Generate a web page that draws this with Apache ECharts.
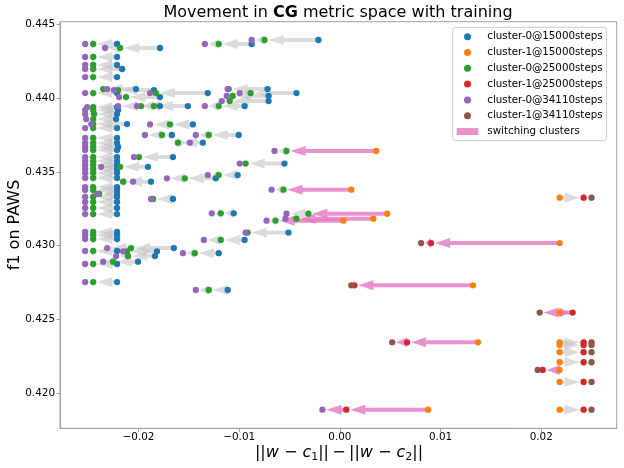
<!DOCTYPE html>
<html>
<head>
<meta charset="utf-8">
<script src="https://cdn.jsdelivr.net/npm/echarts@6/dist/echarts.min.js"></script>
<style>
html, body { margin: 0; padding: 0; background: #fff; }
#main { width: 624px; height: 468px; }
</style>
</head>
<body>
<div id="main"></div>
<script>
// rows: [x @15000 steps, x @25000 steps, x @34110 steps, f1 on PAWS]
// tasks that stay in cluster 0 the whole time
var stay0 = [
	[-0.02213, -0.02450, -0.02530, 0.44365],
	[-0.02213, -0.02450, -0.02530, 0.44277],
	[-0.02213, -0.02450, -0.02530, 0.44223],
	[-0.02163, -0.02450, -0.02530, 0.44196],
	[-0.02213, -0.02450, -0.02530, 0.44141],
	[-0.02213, -0.02450, -0.02530, 0.44033],
	[-0.02213, -0.02450, -0.02510, 0.43938],
	[-0.02203, -0.02450, -0.02530, 0.43918],
	[-0.02213, -0.02441, -0.02530, 0.43891],
	[-0.02223, -0.02450, -0.02520, 0.43857],
	[-0.02114, -0.02450, -0.02470, 0.43823],
	[-0.02213, -0.02450, -0.02530, 0.43796],
	[-0.02213, -0.02450, -0.02530, 0.43729],
	[-0.02213, -0.02450, -0.02530, 0.43695],
	[-0.02203, -0.02450, -0.02530, 0.43668],
	[-0.02213, -0.02450, -0.02530, 0.43647],
	[-0.02213, -0.02450, -0.02530, 0.43600],
	[-0.02213, -0.02450, -0.02530, 0.43573],
	[-0.02213, -0.02450, -0.02530, 0.43546],
	[-0.02213, -0.02450, -0.02530, 0.43519],
	[-0.02213, -0.02450, -0.02530, 0.43492],
	[-0.02213, -0.02450, -0.02530, 0.43458],
	[-0.02213, -0.02450, -0.02530, 0.43397],
	[-0.02213, -0.02450, -0.02530, 0.43377],
	[-0.02213, -0.02391, -0.02411, 0.43350],
	[-0.02213, -0.02450, -0.02530, 0.43330],
	[-0.02213, -0.02450, -0.02530, 0.43296],
	[-0.02213, -0.02450, -0.02530, 0.43255],
	[-0.02213, -0.02450, -0.02530, 0.43214],
	[-0.02213, -0.02450, -0.02530, 0.43093],
	[-0.02213, -0.02450, -0.02530, 0.43072],
	[-0.02213, -0.02450, -0.02530, 0.43045],
	[-0.02213, -0.02450, -0.02530, 0.42964],
	[-0.02213, -0.02450, -0.02530, 0.42876],
	[-0.02213, -0.02450, -0.02530, 0.42754],
	[-0.01787, -0.02183, -0.02332, 0.44338],
	[-0.00876, -0.01203, -0.01341, 0.44365],
	[-0.00213, -0.00748, -0.00876, 0.44392],
	[-0.02025, -0.02351, -0.02312, 0.44060],
	[-0.01847, -0.02203, -0.02243, 0.44053],
	[-0.01312, -0.01827, -0.01886, 0.44033],
	[-0.01787, -0.02124, -0.02193, 0.44006],
	[-0.01787, -0.01975, -0.02203, 0.43945],
	[-0.01510, -0.01847, -0.02015, 0.43945],
	[-0.00718, -0.01104, -0.01114, 0.44060],
	[-0.00431, -0.00886, -0.00995, 0.44033],
	[-0.00708, -0.01064, -0.01124, 0.44013],
	[-0.00708, -0.01094, -0.01173, 0.43979],
	[-0.00946, -0.01203, -0.01341, 0.43945],
	[-0.01460, -0.01688, -0.01886, 0.43821],
	[-0.01668, -0.01767, -0.01936, 0.43749],
	[-0.01005, -0.01302, -0.01431, 0.43749],
	[-0.01361, -0.01609, -0.01490, 0.43697],
	[-0.01658, -0.01995, -0.02045, 0.43600],
	[-0.00550, -0.00936, -0.00995, 0.43556],
	[-0.01906, -0.02183, -0.02371, 0.43534],
	[-0.01015, -0.01203, -0.01312, 0.43478],
	[-0.01233, -0.01540, -0.01718, 0.43456],
	[-0.01876, -0.02153, -0.02054, 0.43433],
	[-0.01658, -0.01856, -0.01876, 0.43316],
	[-0.01054, -0.01183, -0.01272, 0.43219],
	[-0.00510, -0.00916, -0.00936, 0.43089],
	[-0.00946, -0.01183, -0.01351, 0.43039],
	[-0.01649, -0.02074, -0.02312, 0.42984],
	[-0.01817, -0.02114, -0.02153, 0.42962],
	[-0.01203, -0.01441, -0.01559, 0.42949],
	[-0.01837, -0.02104, -0.02223, 0.42930],
	[-0.02005, -0.02252, -0.02351, 0.42892],
	[-0.01114, -0.01302, -0.01431, 0.42700]
];

// tasks that stay in cluster 1
var stay1 = [
	[0.02183, 0.02421, 0.02500, 0.43325],
	[0.02183, 0.02421, 0.02500, 0.42346],
	[0.02183, 0.02421, 0.02500, 0.42328],
	[0.02183, 0.02421, 0.02500, 0.42279],
	[0.02183, 0.02421, 0.02500, 0.42211],
	[0.02183, 0.02421, 0.02500, 0.42078],
	[0.02183, 0.02421, 0.02500, 0.41890]
];

// [x15, x25, x34, f1, cluster@15000, cluster@25000, cluster@34110, switch 15->25, switch 25->34]
var switched = [
	[0.00361, -0.00530, -0.00649, 0.43641, 1, 0, 0, 1, 0],
	[0.00114, -0.00560, -0.00678, 0.43379, 1, 0, 0, 1, 0],
	[0.00470, -0.00312, -0.00530, 0.43216, 1, 0, 0, 1, 0],
	[0.00332, -0.00431, -0.00540, 0.43183, 1, 0, 0, 1, 0],
	[0.00035, -0.00639, -0.00728, 0.43169, 1, 0, 0, 1, 0],
	[0.02183, 0.00906, 0.00807, 0.43018, 1, 1, 1, 1, 1],
	[0.01322, 0.00144, 0.00114, 0.42732, 1, 1, 1, 1, 1],
	[0.02183, 0.02312, 0.01985, 0.42547, 1, 1, 1, 1, 1],
	[0.01371, 0.00668, 0.00520, 0.42346, 1, 1, 1, 1, 1],
	[0.02183, 0.02015, 0.01965, 0.42159, 1, 1, 1, 1, 1],
	[0.00876, 0.00064, -0.00173, 0.41890, 1, 1, 0, 1, 1]
];

var xTicks = [-0.02, -0.01, 0, 0.01, 0.02];
var yTicks = [0.420, 0.425, 0.430, 0.435, 0.440, 0.445];
var steps = ['15000', '25000', '34110'];
var pointColors = [
	['#1f77b4', '#ff7f0e'],
	['#2ca02c', '#d62728'],
	['#9467bd', '#8c564b']
];
var FONT = 'DejaVu Sans';

// points[step][cluster]
var points = [[[], []], [[], []], [[], []]];
var grayArrows = [];
var pinkArrows = [];

function addRow(r, cl, sw) {
	for (var s = 0; s < 3; s++) {
		points[s][cl[s]].push([r[s], r[3]]);
	}
	(sw[0] ? pinkArrows : grayArrows).push([r[0], r[3], r[1], r[3]]);
	(sw[1] ? pinkArrows : grayArrows).push([r[1], r[3], r[2], r[3]]);
}
stay0.forEach(function (r) { addRow(r, [0, 0, 0], [0, 0]); });
stay1.forEach(function (r) { addRow(r, [1, 1, 1], [0, 0]); });
switched.forEach(function (r) { addRow(r, [r[4], r[5], r[6]], [r[7], r[8]]); });

function arrowRenderer(color) {
	return function (params, api) {
		var a = api.coord([api.value(0), api.value(1)]);
		var b = api.coord([api.value(2), api.value(3)]);
		var dx = b[0] - a[0], dy = b[1] - a[1];
		var len = Math.sqrt(dx * dx + dy * dy);
		var gap = 4;
		if (len <= gap + 0.5) return null;
		var ux = dx / len, uy = dy / len, nx = -uy, ny = ux;
		var L = len - gap;
		var tip = [a[0] + ux * L, a[1] + uy * L];
		var hl = Math.min(15, L), hw = 5, sw = 2;
		var base = [tip[0] - ux * hl, tip[1] - uy * hl];
		var pts = [
			[a[0] + nx * sw, a[1] + ny * sw],
			[base[0] + nx * sw, base[1] + ny * sw],
			[base[0] + nx * hw, base[1] + ny * hw],
			tip,
			[base[0] - nx * hw, base[1] - ny * hw],
			[base[0] - nx * sw, base[1] - ny * sw],
			[a[0] - nx * sw, a[1] - ny * sw]
		];
		return { type: 'polygon', shape: { points: pts }, style: { fill: color } };
	};
}

var series = [{
	type: 'custom',
	name: 'moves',
	renderItem: arrowRenderer('rgba(190,190,190,0.55)'),
	data: grayArrows,
	silent: true,
	z: 1
}, {
	type: 'custom',
	name: 'switching clusters',
	renderItem: arrowRenderer('rgba(227,119,194,0.8)'),
	data: pinkArrows,
	silent: true,
	z: 1
}];

var legendData = [];
for (var s = 0; s < 3; s++) {
	for (var c = 0; c < 2; c++) {
		var nm = 'cluster-' + c + '@' + steps[s] + 'steps';
		series.push({
			type: 'scatter',
			name: nm,
			symbolSize: 6.3,
			itemStyle: { color: pointColors[s][c], opacity: 1 },
			data: points[s][c],
			z: 2
		});
		legendData.push({ name: nm, icon: 'circle', itemStyle: { color: pointColors[s][c] } });
	}
}
legendData.push({ name: 'switching clusters', icon: 'rect', itemStyle: { color: 'rgba(227,119,194,0.8)' } });

var axisGray = '#a0a0a0';
var myChart = echarts.init(document.getElementById('main'));
var option = {
	animation: false,
	backgroundColor: '#fff',
	textStyle: { fontFamily: FONT },
	grid: {
		left: 60, right: 7.3, top: 21.7, bottom: 39.7,
		show: true, borderColor: axisGray, borderWidth: 1
	},
	xAxis: {
		type: 'value',
		min: -0.0278, max: 0.0275,
		splitLine: { show: false },
		axisLine: { onZero: false, lineStyle: { color: axisGray } },
		axisTick: { customValues: xTicks, length: 3.5, lineStyle: { color: axisGray } },
		axisLabel: {
			customValues: xTicks,
			margin: 4,
			fontSize: 10.4,
			color: '#000',
			fontFamily: FONT,
			formatter: function (v) {
				return (v < -1e-9 ? '\u2212' : '') + Math.abs(v).toFixed(2);
			}
		}
	},
	yAxis: {
		type: 'value',
		min: 0.41764, max: 0.44516,
		splitLine: { show: false },
		axisLine: { onZero: false, lineStyle: { color: axisGray } },
		axisTick: { customValues: yTicks, length: 3.5, lineStyle: { color: axisGray } },
		axisLabel: {
			customValues: yTicks,
			margin: 5,
			fontSize: 10.4,
			color: '#000',
			fontFamily: FONT,
			formatter: function (v) { return v.toFixed(3); }
		}
	},
	legend: {
		left: 452.7, top: 27.3,
		orient: 'vertical',
		selectedMode: false,
		padding: [3.1, 4, 2.9, 4],
		itemWidth: 21.6, itemHeight: 7,
		itemGap: 3.2,
		backgroundColor: 'rgba(255,255,255,0.8)',
		borderColor: '#cccccc', borderWidth: 1, borderRadius: 3,
		textStyle: { fontSize: 10.3, lineHeight: 12.6, color: '#000', fontFamily: FONT, padding: [0, 0, 0, 4] },
		data: legendData,
		z: 10
	},
	graphic: [{
		type: 'text', x: 338, y: 13,
		style: {
			text: '{n|Movement in }{b|CG}{n| metric space with training}',
			align: 'center', verticalAlign: 'middle',
			rich: {
				n: { fontSize: 16, fontFamily: FONT, fill: '#000' },
				b: { fontSize: 16, fontFamily: FONT, fontWeight: 'bold', fill: '#000' }
			}
		}
	}, {
		type: 'text', x: 15, y: 225, rotation: Math.PI / 2,
		style: {
			text: 'f1 on PAWS', fontSize: 16, fontFamily: FONT, fill: '#000',
			align: 'center', verticalAlign: 'middle'
		}
	}, {
		type: 'text', x: 339, y: 453,
		style: {
			text: '{n|||}{i|w}{n| \u2212 }{i|c}{s|1}{n|||} {n|\u2212} {n|||}{i|w}{n| \u2212 }{i|c}{s|2}{n|||}',
			align: 'center', verticalAlign: 'middle',
			rich: {
				n: { fontSize: 16, lineHeight: 20, fontFamily: FONT, fill: '#000' },
				i: { fontSize: 16, lineHeight: 20, fontFamily: FONT, fontStyle: 'italic', fill: '#000' },
				s: { fontSize: 11, lineHeight: 20, fontFamily: FONT, fill: '#000', verticalAlign: 'bottom' }
			}
		}
	}],
	series: series
};
myChart.setOption(option);
</script>
</body>
</html>
